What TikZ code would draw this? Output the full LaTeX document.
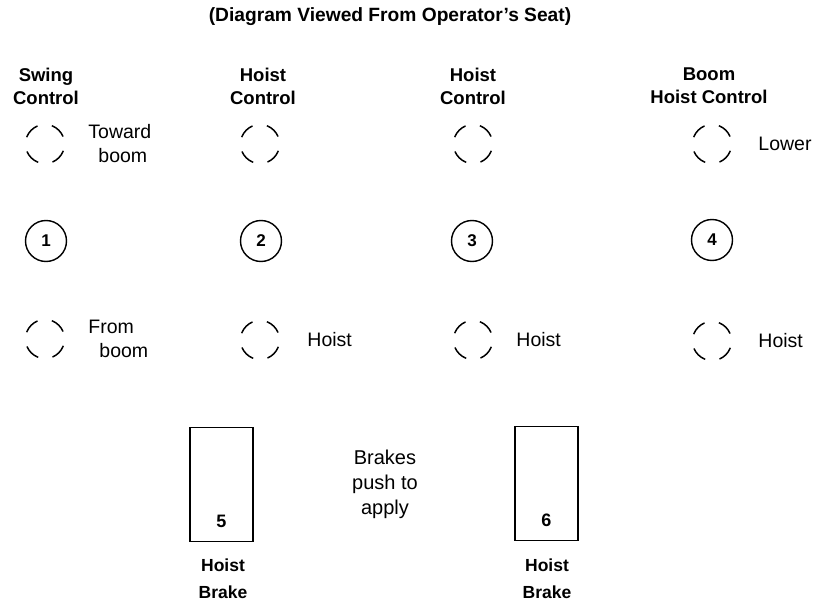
\documentclass[tikz,border=0pt]{standalone}
\usepackage{fontspec}
\setmainfont{Liberation Sans}
\usetikzlibrary{positioning}

\begin{document}
\begin{tikzpicture}[
    x=1pt,y=-1pt,
    title/.style={font=\fontsize{19.2}{22}\selectfont\bfseries,inner sep=0pt},
    head/.style={font=\fontsize{18.5}{23}\selectfont\bfseries,align=center,inner sep=0pt},
    lbl/.style={font=\fontsize{19.5}{24}\selectfont,align=left,inner sep=0pt},
    slot/.style={circle,draw,line width=1.5pt,minimum size=39pt,inner sep=0pt,dash pattern=on 16pt off 14.6pt,dash phase=23pt},
    knob/.style={circle,draw,line width=1.4pt,minimum size=41pt,inner sep=0pt,font=\fontsize{17}{17}\selectfont\bfseries},
    pedal/.style={draw,line width=1.7pt,minimum width=63pt,minimum height=114pt,inner sep=0pt},
    pnum/.style={font=\fontsize{18}{18}\selectfont\bfseries,inner sep=0pt},
    foot/.style={font=\fontsize{17.5}{27}\selectfont\bfseries,align=center,inner sep=0pt},
    node distance=24pt
]
\useasboundingbox (0,0) rectangle (815,605);
\node[title] (seat) at (390,17) {(Diagram Viewed From Operator's Seat)};
\node[head] (swing) at (46,86) {Swing\\Control};
\node[head] (hoistA) at (263,86) {Hoist\\Control};
\node[head] (hoistB) at (473,86) {Hoist\\Control};
\node[head] (boom) at (709,86) {Boom\\Hoist Control};
\node[slot] (up1) at (45,144) {};
\node[slot] (up2) at (260,144) {};
\node[slot] (up3) at (473,144) {};
\node[slot] (up4) at (712,144) {};
\node[knob] (k1) at (46,241) {1};
\node[knob] (k2) at (261,241) {2};
\node[knob] (k3) at (472,241) {3};
\node[knob] (k4) at (712,240) {4};
\node[slot] (dn1) at (45,339) {};
\node[slot] (dn2) at (260,340) {};
\node[slot] (dn3) at (473,340) {};
\node[slot] (dn4) at (712,341) {};
\node[lbl,right=23pt of up1] (toward) {Toward\\\hspace*{10pt}boom};
\node[lbl,right=23pt of dn1] (from) {From\\\hspace*{11pt}boom};
\node[lbl,right=27pt of dn2] (hst2) {Hoist};
\node[lbl,right=23pt of dn3] (hst3) {Hoist};
\node[lbl,right=26pt of dn4] (hst4) {Hoist};
\node[lbl,right=26pt of up4] (lower) {Lower};
\node[pedal] (pedal5) at (221.5,484.5) {};
\node[pedal] (pedal6) at (546.5,483.5) {};
\node[pnum,above=14pt of pedal5.south] (n5) {5};
\node[pnum,above=14pt of pedal6.south] (n6) {6};
\node[lbl,align=center,font=\fontsize{20}{25}\selectfont] (brakes) at (385,484) {Brakes\\push to\\apply};
\node[foot] (brk5) at (223,579) {Hoist\\Brake};
\node[foot] (brk6) at (547,579) {Hoist\\Brake};
\end{tikzpicture}
\end{document}
